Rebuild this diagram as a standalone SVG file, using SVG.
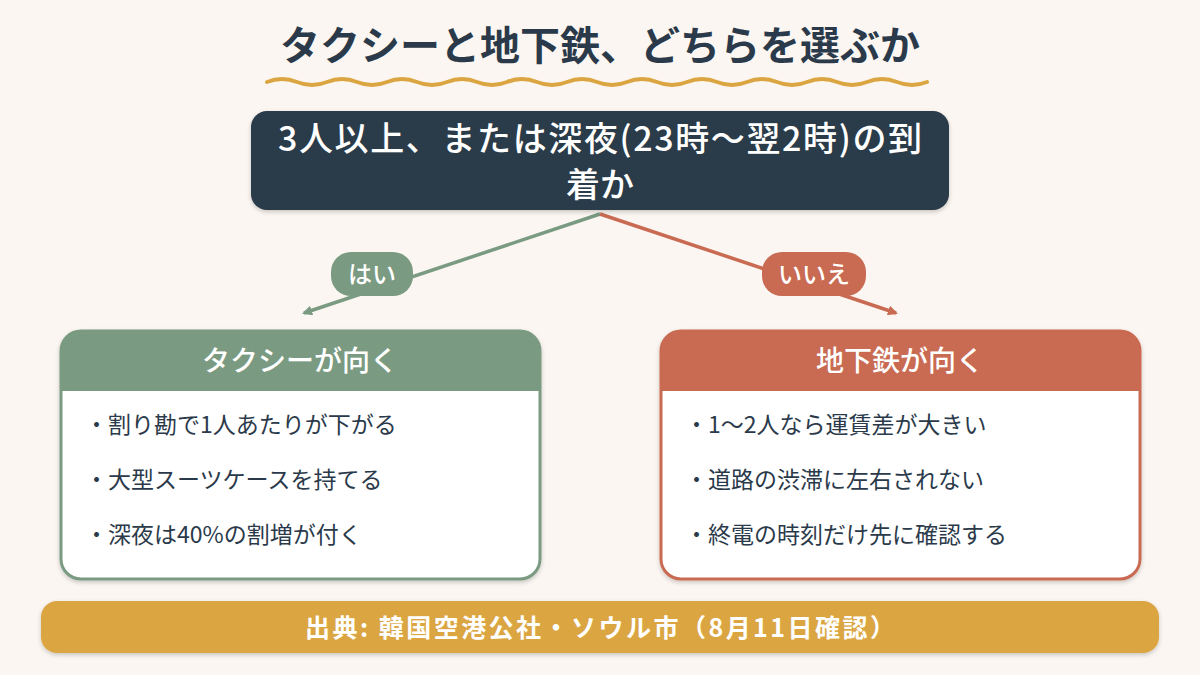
<svg xmlns="http://www.w3.org/2000/svg" width="1200" height="675" viewBox="0 0 1200 675">
<defs>
<style>
text{font-family:"Noto Sans CJK JP","Noto Sans",sans-serif}
.t{font-size:40px;font-weight:bold;fill:#2b3a4a}
.q{font-size:34px;fill:#fff;font-weight:500}
.h{font-size:28px;fill:#fff;font-weight:500}
.i{font-size:23px;fill:#2b3a4a}
.l{font-size:24px;fill:#fff;font-weight:500}
</style>
<marker id="ag" markerWidth="10" markerHeight="10" refX="8" refY="5" orient="auto" markerUnits="userSpaceOnUse"><path d="M0,0 L10,5 L0,10z" fill="#7a9a82"/></marker>
<marker id="ar" markerWidth="10" markerHeight="10" refX="8" refY="5" orient="auto" markerUnits="userSpaceOnUse"><path d="M0,0 L10,5 L0,10z" fill="#c96a52"/></marker>
<filter id="sh" x="-5%" y="-5%" width="110%" height="120%"><feDropShadow dx="0" dy="2" stdDeviation="2" flood-opacity="0.2"/></filter>
</defs>
<rect width="1200" height="675" fill="#fbf6f1"/>
<g id="title">
<text class="t" x="600" y="60" text-anchor="middle" textLength="640">タクシーと地下鉄、どちらを選ぶか</text>
<path d="M267,82 q15,-6 30,0 t30,0 t30,0 t30,0 t30,0 t30,0 t30,0 t30,0 t30,0 t30,0 t30,0 t30,0 t30,0 t30,0 t30,0 t30,0 t30,0 t30,0 t30,0 t30,0 t30,0 t30,0" fill="none" stroke="#dba642" stroke-width="4" stroke-linecap="round"/>
</g>
<g id="connectors">
<line x1="600" y1="214" x2="304" y2="313" stroke="#7a9a82" stroke-width="3.5" marker-end="url(#ag)"/>
<line x1="600" y1="214" x2="896" y2="313" stroke="#c96a52" stroke-width="3.5" marker-end="url(#ar)"/>
<g id="yes"><rect x="331" y="252" width="82" height="44" rx="20" fill="#7a9a82"/><text class="l" x="372" y="283" text-anchor="middle">はい</text></g>
<g id="no"><rect x="762" y="252" width="104" height="44" rx="20" fill="#c96a52"/><text class="l" x="814" y="283" text-anchor="middle">いいえ</text></g>
</g>
<g id="question">
<rect x="251" y="111" width="698" height="99" rx="16" fill="#2b3a4a" filter="url(#sh)"/>
<text class="q" x="600" y="151" text-anchor="middle" textLength="644">3人以上、または深夜(23時〜翌2時)の到</text>
<text class="q" x="600" y="197" text-anchor="middle">着か</text>
</g>
<g id="taxi">
<rect x="61" y="331" width="479" height="248" rx="20" fill="#fff" stroke="#7a9a82" stroke-width="3" filter="url(#sh)"/>
<path d="M61,391 V351 a20,20 0 0 1 20,-20 H520 a20,20 0 0 1 20,20 V391z" fill="#7a9a82"/>
<text class="h" x="300" y="371" text-anchor="middle">タクシーが向く</text>
<text class="i" x="85" y="433">・割り勘で1人あたりが下がる</text>
<text class="i" x="85" y="488">・大型スーツケースを持てる</text>
<text class="i" x="85" y="543">・深夜は40%の割増が付く</text>
</g>
<g id="subway">
<rect x="661" y="331" width="479" height="248" rx="20" fill="#fff" stroke="#c96a52" stroke-width="3" filter="url(#sh)"/>
<path d="M661,391 V351 a20,20 0 0 1 20,-20 H1120 a20,20 0 0 1 20,20 V391z" fill="#c96a52"/>
<text class="h" x="900" y="371" text-anchor="middle">地下鉄が向く</text>
<text class="i" x="685" y="433">・1〜2人なら運賃差が大きい</text>
<text class="i" x="685" y="488">・道路の渋滞に左右されない</text>
<text class="i" x="685" y="543">・終電の時刻だけ先に確認する</text>
</g>
<g id="source">
<rect x="41" y="601" width="1118" height="52" rx="16" fill="#dba642" filter="url(#sh)"/>
<text x="600" y="637" text-anchor="middle" textLength="590" style="font-size:25px;font-weight:bold;fill:#fff">出典:  韓国空港公社・ソウル市（8月11日確認）</text>
</g>
</svg>
